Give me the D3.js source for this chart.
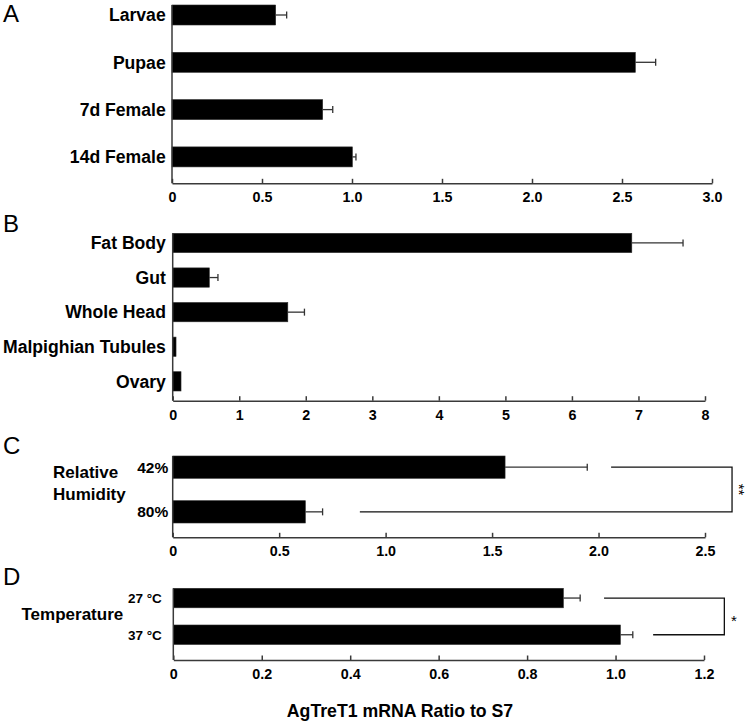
<!DOCTYPE html>
<html>
<head>
<meta charset="utf-8">
<script src="https://cdn.jsdelivr.net/npm/d3@7"></script>
<style>
  html, body { margin: 0; padding: 0; background: #fff; }
  svg { display: block; font-family: "Liberation Sans", Arial, Helvetica, sans-serif; }
</style>
</head>
<body>
<svg id="chart" width="747" height="723"></svg>
<script>
// ---- Data ----
// Panel A: developmental stages
const stageCategories = ["Larvae", "Pupae", "7d Female", "14d Female"];
const stageValues = [0.576, 2.574, 0.837, 1.002];
const stageErrors = [0.061, 0.113, 0.056, 0.020];
const stageTicks = [0, 0.5, 1.0, 1.5, 2.0, 2.5, 3.0];

// Panel B: tissues
const tissueCategories = ["Fat Body", "Gut", "Whole Head", "Malpighian Tubules", "Ovary"];
const tissueValues = [6.90, 0.55, 1.73, 0.05, 0.125];
const tissueErrors = [0.77, 0.13, 0.25, 0, 0];
const tissueTicks = [0, 1, 2, 3, 4, 5, 6, 7, 8];

// Panel C: relative humidity
const humidityCategories = ["42%", "80%"];
const humidityValues = [1.561, 0.623];
const humidityErrors = [0.386, 0.081];
const humidityTicks = [0, 0.5, 1.0, 1.5, 2.0, 2.5];
const humidityBracket = { topStart: 2.059, bottomStart: 0.879, right: 2.627, label: "**" };

// Panel D: temperature
const temperatureCategories = ["27 °C", "37 °C"];
const temperatureValues = [0.882, 1.011];
const temperatureErrors = [0.038, 0.028];
const temperatureTicks = [0, 0.2, 0.4, 0.6, 0.8, 1.0, 1.2];
const temperatureBracket = { topStart: 0.974, bottomStart: 1.085, right: 1.246, label: "*" };

const axisTitle = "AgTreT1 mRNA Ratio to S7";

// ---- Layout ----
const svg = d3.select("#chart");
const FONT_BOLD = 700;
const axisColor = "#3a3a3a";

const panels = [
  { letter: "A", letterY: 22, cats: stageCategories, vals: stageValues, errs: stageErrors, ticks: stageTicks,
    max: 3, x0: 172, x1: 712, top: 5, step: 47.3, barH: 20, axisY: 183.3, catSize: 17.6, catGap: 6.3,
    tickFmt: d => d === 0 ? "0" : d3.format(".1f")(d) },
  { letter: "B", letterY: 232, cats: tissueCategories, vals: tissueValues, errs: tissueErrors, ticks: tissueTicks,
    max: 8, x0: 172.7, x1: 705, top: 233.3, step: 34.6, barH: 19.3, axisY: 400.7, catSize: 17.6, catGap: 6.8,
    tickFmt: d3.format("d") },
  { letter: "C", letterY: 454, cats: humidityCategories, vals: humidityValues, errs: humidityErrors, ticks: humidityTicks,
    max: 2.5, x0: 172.7, x1: 705, top: 456, step: 44.7, barH: 22.3, axisY: 537.3, catSize: 15.5, catGap: 4.5,
    tickFmt: d => d === 0 ? "0" : d3.format(".1f")(d),
    bracket: humidityBracket, group: ["Relative", "Humidity"], groupX: 53, groupY: [478, 500], starRotate: true },
  { letter: "D", letterY: 585, cats: temperatureCategories, vals: temperatureValues, errs: temperatureErrors, ticks: temperatureTicks,
    max: 1.2, x0: 173.3, x1: 704, top: 588.3, step: 36.7, barH: 19.5, axisY: 660, catSize: 13.5, catGap: 11.5,
    tickFmt: d => d === 0 ? "0" : d3.format(".1f")(d),
    bracket: temperatureBracket, group: ["Temperature"], groupX: 21.5, groupY: [619.5] }
];

panels.forEach(p => {
  const g = svg.append("g");
  const x = d3.scaleLinear().domain([0, p.max]).range([p.x0, p.x1]);
  const n = p.cats.length;
  const y = d3.scaleBand()
    .domain(p.cats)
    .range([p.top, p.top + p.step * (n - 1) + p.barH])
    .paddingInner(1 - p.barH / p.step)
    .paddingOuter(0)
    .align(0);

  // panel letter
  g.append("text")
    .attr("x", 3).attr("y", p.letterY)
    .attr("font-size", 24).attr("fill", "#000")
    .text(p.letter);

  // bars
  g.selectAll("rect.bar").data(p.cats).enter().append("rect")
    .attr("class", "bar")
    .attr("x", x(0))
    .attr("y", d => y(d))
    .attr("width", (d, i) => x(p.vals[i]) - x(0))
    .attr("height", y.bandwidth())
    .attr("fill", "#000")
    .attr("stroke", "#2a2a2a").attr("stroke-width", 0.6);

  // error bars
  p.cats.forEach((c, i) => {
    if (!p.errs[i]) return;
    const cy = y(c) + y.bandwidth() / 2;
    const xa = x(p.vals[i]), xb = x(p.vals[i] + p.errs[i]);
    g.append("line").attr("x1", xa).attr("x2", xb).attr("y1", cy).attr("y2", cy)
      .attr("stroke", "#333").attr("stroke-width", 1.3);
    g.append("line").attr("x1", xb).attr("x2", xb).attr("y1", cy - 3.5).attr("y2", cy + 3.5)
      .attr("stroke", "#333").attr("stroke-width", 1.3);
  });

  // category labels
  g.selectAll("text.cat").data(p.cats).enter().append("text")
    .attr("class", "cat")
    .attr("x", p.x0 - p.catGap)
    .attr("y", d => y(d) + y.bandwidth() / 2)
    .attr("dy", "0.36em")
    .attr("text-anchor", "end")
    .attr("font-weight", FONT_BOLD)
    .attr("font-size", p.catSize)
    .text(d => d);

  // x axis via d3.axisBottom, ticks drawn inward (upward)
  const axis = d3.axisBottom(x).tickValues(p.ticks).tickFormat(p.tickFmt)
    .tickSizeInner(-4.5).tickSizeOuter(0).tickPadding(9);
  const ag = g.append("g").attr("transform", `translate(0,${p.axisY})`).call(axis);
  ag.select(".domain").attr("stroke", axisColor).attr("stroke-width", 1.5);
  ag.selectAll(".tick line").attr("stroke", axisColor).attr("stroke-width", 1.5);
  ag.selectAll(".tick text")
    .attr("font-family", "'Liberation Sans', Arial, sans-serif")
    .attr("font-weight", FONT_BOLD)
    .attr("font-size", 14.3)
    .attr("fill", "#000")
    .attr("y", 9).attr("dy", "0.71em");

  // y axis (vertical line)
  g.append("line")
    .attr("x1", x(0)).attr("x2", x(0))
    .attr("y1", p.top).attr("y2", p.axisY)
    .attr("stroke", axisColor).attr("stroke-width", 1.5);

  // group label
  if (p.group) {
    p.group.forEach((t, i) => {
      g.append("text")
        .attr("x", p.groupX).attr("y", p.groupY[i])
        .attr("font-weight", FONT_BOLD).attr("font-size", 17)
        .text(t);
    });
  }

  // significance bracket
  if (p.bracket) {
    const b = p.bracket;
    const yTop = y(p.cats[0]) + y.bandwidth() / 2;
    const yBot = y(p.cats[1]) + y.bandwidth() / 2;
    const path = d3.path();
    path.moveTo(x(b.topStart), yTop);
    path.lineTo(x(b.right), yTop);
    path.lineTo(x(b.right), yBot);
    path.lineTo(x(b.bottomStart), yBot);
    g.append("path").attr("d", path.toString())
      .attr("fill", "none").attr("stroke", "#111").attr("stroke-width", 1.3);
    const sy = (yTop + yBot) / 2;
    const st = g.append("text")
      .attr("font-size", 15).attr("fill", "#000")
      .attr("text-anchor", "middle")
      .text(b.label);
    if (p.starRotate) {
      st.attr("transform", `translate(${x(b.right) + 1.5},${sy}) rotate(90)`);
    } else {
      st.attr("x", x(b.right) + 9.5).attr("y", sy + 9.5);
    }
  }
});

// shared axis title
svg.append("text")
  .attr("x", 400).attr("y", 717)
  .attr("text-anchor", "middle")
  .attr("font-weight", FONT_BOLD)
  .attr("font-size", 17.7)
  .text(axisTitle);
</script>
</body>
</html>
